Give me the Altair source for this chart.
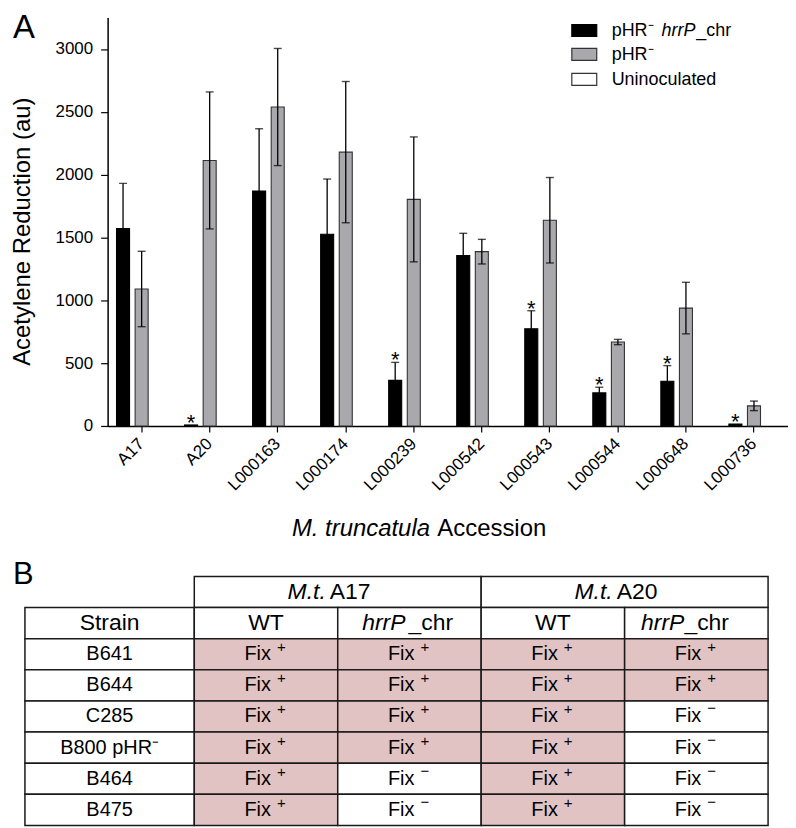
import altair as alt
import pandas as pd

# ---------------- Panel A data ----------------
accessions = ["A17", "A20", "L000163", "L000174", "L000239",
              "L000542", "L000543", "L000544", "L000648", "L000736"]
series_names = ["pHR⁻ hrrP_chr", "pHR⁻", "Uninoculated"]
hrrp_mean = [1570, 8, 1870, 1525, 363, 1356, 774, 263, 356, 15]
hrrp_err = [360, 0, 495, 440, 143, 177, 143, 45, 124, 0]
phr_mean = [1090, 2113, 2538, 2179, 1803, 1387, 1637, 668, 938, 160]
phr_err = [300, 545, 466, 562, 497, 98, 340, 21, 205, 38]
unin_mean = [0, 0, 0, 0, 0, 0, 0, 0, 0, 0]
unin_err = [0, 0, 0, 0, 0, 0, 0, 0, 0, 0]
hrrp_signif = [False, True, False, False, True, False, True, True, True, True]
y_ticks = [0, 500, 1000, 1500, 2000, 2500, 3000]

# ---------------- Panel B data ----------------
strains = ["B641", "B644", "C285", "B800 pHR⁻", "B464", "B475"]
a17_wt = ["+", "+", "+", "+", "+", "+"]
a17_hrrp = ["+", "+", "+", "+", "-", "-"]
a20_wt = ["+", "+", "+", "+", "+", "+"]
a20_hrrp = ["+", "+", "-", "-", "-", "-"]

# ---------------- styles / layout ----------------
FONT = "Liberation Sans"
BLACK = "#000000"
GRAY = "#a9a9ad"
EDGE = "#333333"
PINK = "#e2c3c3"
W, H = 683, 410
PAD = {"left": 100, "top": 8, "right": 0, "bottom": 402}

# ---------------- build bar table ----------------
rows = []
for i, acc in enumerate(accessions):
    for s, means, errs in zip(series_names, [hrrp_mean, phr_mean, unin_mean],
                              [hrrp_err, phr_err, unin_err]):
        m, e = means[i], errs[i]
        rows.append(dict(acc=acc, series=s, value=m, err=e, lo=m - e, hi=m + e,
                         star=bool(s == series_names[0] and hrrp_signif[i])))
df = pd.DataFrame(rows)
df_bars = df[df.value > 0]
df_err = df[df.err > 0]
caps = pd.concat([
    df_err.assign(cap=df_err.lo),
    df_err.assign(cap=df_err.hi),
])
df_star = df[df.star]

x_enc = alt.X("acc:N", sort=accessions,
              scale=alt.Scale(domain=accessions, paddingInner=0.18, paddingOuter=0.09),
              axis=alt.Axis(labelAngle=-45, labelAlign="right", labelBaseline="middle",
                            labelFontSize=17, labelFont=FONT, labelColor="black",
                            labelPadding=9, tickSize=6, tickWidth=1.2, tickColor="black",
                            domainColor="black", domainWidth=1.5, grid=False, title=None))
xo_enc = alt.XOffset("series:N",
                     scale=alt.Scale(domain=series_names, paddingInner=0.3, paddingOuter=0.15))
y_scale = alt.Scale(domain=[0, 3250], nice=False, zero=True)
y_enc = alt.Y("value:Q", scale=y_scale,
              axis=alt.Axis(values=y_ticks, format="d", labelFontSize=17, labelFont=FONT,
                            labelColor="black", labelPadding=8, tickSize=7, tickWidth=1.2,
                            tickColor="black", domainColor="black", domainWidth=1.5,
                            grid=False, title=None))

bars = alt.Chart(df_bars).mark_bar(strokeWidth=1.1).encode(
    x=x_enc, xOffset=xo_enc, y=y_enc,
    fill=alt.Fill("series:N", scale=alt.Scale(domain=series_names, range=[BLACK, GRAY, "#ffffff"]), legend=None),
    stroke=alt.Stroke("series:N", scale=alt.Scale(domain=series_names, range=[BLACK, EDGE, EDGE]), legend=None),
)
err_rules = alt.Chart(df_err).mark_rule(color="black", strokeWidth=1.3).encode(
    x=x_enc, xOffset=xo_enc, y=alt.Y("lo:Q", scale=y_scale), y2="hi:Q")
err_caps = alt.Chart(caps).mark_tick(color="black", thickness=1.4, size=8, orient="horizontal").encode(
    x=x_enc, xOffset=xo_enc, y=alt.Y("cap:Q", scale=y_scale))
stars = alt.Chart(df_star).mark_text(text="*", fontSize=22, font=FONT, baseline="alphabetic",
                                     dy=5, color="black").encode(
    x=x_enc, xOffset=xo_enc, y=alt.Y("hi:Q", scale=y_scale))

panel_a = alt.layer(bars, err_rules, err_caps, stars)

# ---------------- legend (panel A) ----------------
one = pd.DataFrame({"k": [0]})
leg_centers = [13, 37, 62]
leg_fills = [BLACK, GRAY, "#ffffff"]
leg_strokes = [BLACK, EDGE, EDGE]
legend_layers = []
for c, f, s in zip(leg_centers, leg_fills, leg_strokes):
    legend_layers.append(alt.Chart(one).mark_rect(fill=f, stroke=s, strokeWidth=1.2).encode(
        x=alt.value(466), x2=alt.value(491), y=alt.value(c - 6), y2=alt.value(c + 6)))


def txt(t, x, y, size, italic=False, align="left", baseline="alphabetic", angle=0):
    kw = dict(text=t, fontSize=size, font=FONT, align=align, baseline=baseline, color="black")
    if italic:
        kw["fontStyle"] = "italic"
    if angle:
        kw["angle"] = angle
    return alt.Chart(one).mark_text(**kw).encode(x=alt.value(x), y=alt.value(y))


legend_layers += [
    txt("pHR⁻", 506, 19, 18),
    txt("hrrP", 556, 19, 18, italic=True),
    txt("_chr", 591, 19, 18),
    txt("pHR⁻", 506, 43, 18),
    txt("Uninoculated", 506, 68, 18),
]

titles = [
    txt("A", -95, 21, 33),
    txt("B", -95, 569, 31),
    txt("Acetylene Reduction (au)", -85, 215, 24, align="center", baseline="middle", angle=270),
    txt("M. truncatula", 185, 520, 24, italic=True),
    txt("Accession", 331, 520, 24),
]

# ---------------- table (panel B) ----------------
col_w = [170, 144, 144, 144, 144]
col_edges = [0]
for w in col_w:
    col_edges.append(col_edges[-1] + w)

cells, plain, split, fix = [], [], [], []
# header row 0 (host)
for j, host in enumerate(["A17", "A20"]):
    x0, x1 = col_edges[1 + 2 * j], col_edges[3 + 2 * j]
    cells.append(dict(x0=x0, x1=x1, y0=0, y1=1, fill="#ffffff"))
    cx = (x0 + x1) / 2
    split.append(dict(xi=cx - 12, xn=cx - 8, y=0.5, it="M.t.", no=host))
# header row 1
heads = ["Strain", "WT", None, "WT", None]
for c in range(5):
    x0, x1 = col_edges[c], col_edges[c + 1]
    cells.append(dict(x0=x0, x1=x1, y0=1, y1=2, fill="#ffffff"))
    cx = (x0 + x1) / 2
    if heads[c] is None:
        off = -4 if c == 2 else -12
        split.append(dict(xi=cx + off, xn=cx + off + (3 if c == 2 else 0), y=1.5, it="hrrP", no="_chr"))
    else:
        plain.append(dict(x=cx, y=1.5, t=heads[c], size=23))
# data rows
for r, st in enumerate(strains):
    y0 = 2 + r
    cells.append(dict(x0=col_edges[0], x1=col_edges[1], y0=y0, y1=y0 + 1, fill="#ffffff"))
    plain.append(dict(x=(col_edges[0] + col_edges[1]) / 2, y=y0 + 0.5, t=st, size=20))
    for c, vals in enumerate([a17_wt, a17_hrrp, a20_wt, a20_hrrp], start=1):
        v = vals[r]
        cells.append(dict(x0=col_edges[c], x1=col_edges[c + 1], y0=y0, y1=y0 + 1,
                          fill=PINK if v == "+" else "#ffffff"))
        fix.append(dict(x=(col_edges[c] + col_edges[c + 1]) / 2, y=y0 + 0.5,
                        sign="+" if v == "+" else "−"))

cells = pd.DataFrame(cells)
plain = pd.DataFrame(plain)
split = pd.DataFrame(split)
fix = pd.DataFrame(fix)

tx = alt.Scale(domain=[0, 746], range=[-83, 663], nice=False, zero=False)
ty = alt.Scale(domain=[0, 8], range=[561, 811], nice=False, zero=False)
X_T = lambda f: alt.X(f, scale=tx, axis=None)
Y_T = lambda f: alt.Y(f, scale=ty, axis=None)

t_cells = alt.Chart(cells).mark_rect(stroke="#1a1a1a", strokeWidth=1.5).encode(
    x=X_T("x0:Q"), x2="x1:Q", y=Y_T("y0:Q"), y2="y1:Q",
    fill=alt.Fill("fill:N", scale=None))
t_body = alt.Chart(plain[plain["size"] == 20]).mark_text(
    fontSize=20, font=FONT, baseline="middle", align="center", color="black").encode(
    x=X_T("x:Q"), y=Y_T("y:Q"), text="t:N")
t_head = alt.Chart(plain[plain["size"] == 23]).mark_text(
    fontSize=23, font=FONT, baseline="middle", align="center", color="black").encode(
    x=X_T("x:Q"), y=Y_T("y:Q"), text="t:N")
t_it = alt.Chart(split).mark_text(
    fontSize=23, font=FONT, fontStyle="italic", baseline="middle", align="right", color="black").encode(
    x=X_T("xi:Q"), y=Y_T("y:Q"), text="it:N")
t_no = alt.Chart(split).mark_text(
    fontSize=23, font=FONT, baseline="middle", align="left", color="black").encode(
    x=X_T("xn:Q"), y=Y_T("y:Q"), text="no:N")
t_fix = alt.Chart(fix).mark_text(
    text="Fix", fontSize=20, font=FONT, baseline="middle", align="right", dx=5, color="black").encode(
    x=X_T("x:Q"), y=Y_T("y:Q"))
t_plus = alt.Chart(fix[fix.sign == "+"]).mark_text(
    text="+", fontSize=15, font=FONT, baseline="middle", align="left", dx=11, dy=-7, color="black").encode(
    x=X_T("x:Q"), y=Y_T("y:Q"))
t_minus = alt.Chart(fix[fix.sign == "−"]).mark_text(
    text="−", fontSize=15, font=FONT, baseline="middle", align="left", dx=11, dy=-8, color="black").encode(
    x=X_T("x:Q"), y=Y_T("y:Q"))

panel_b = alt.layer(t_cells, t_body, t_head, t_it, t_no, t_fix, t_plus, t_minus)

chart = alt.layer(panel_a, panel_b, *legend_layers, *titles).resolve_scale(
    x="independent", y="independent", fill="independent"
).properties(
    width=W, height=H, padding=PAD,
    autosize=alt.AutoSizeParams(type="none"),
).configure_view(strokeWidth=0)

chart.save("out.html", embed_options={"renderer": "svg", "actions": False})
